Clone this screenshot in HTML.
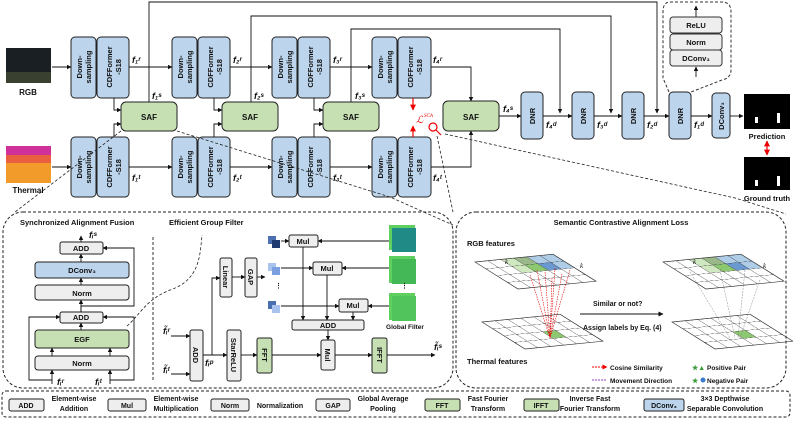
<!DOCTYPE html>
<html><head><meta charset="utf-8"><style>
html,body{margin:0;padding:0;background:#fff}
svg{display:block}
text{font-family:"Liberation Sans",sans-serif;font-weight:bold;fill:#111}
.it{font-family:"Liberation Serif",serif;font-style:italic;font-weight:normal}
</style></head><body>
<svg width="793" height="421" viewBox="0 0 793 421" xmlns="http://www.w3.org/2000/svg">
<defs>
<marker id="a" viewBox="0 0 10 10" refX="9" refY="5" markerWidth="5" markerHeight="5" orient="auto"><path d="M0,0 L10,5 L0,10 z" fill="#111"/></marker>
<marker id="r" viewBox="0 0 10 10" refX="9" refY="5" markerWidth="5" markerHeight="5" orient="auto"><path d="M0,0 L10,5 L0,10 z" fill="#e00"/></marker>
<marker id="rs" viewBox="0 0 10 10" refX="1" refY="5" markerWidth="5" markerHeight="5" orient="auto"><path d="M10,0 L0,5 L10,10 z" fill="#e00"/></marker>
<pattern id="g" width="1" height="1" patternUnits="userSpaceOnUse"><path d="M0,0 H1 V1" fill="none" stroke="#333" stroke-width="0.08"/></pattern>
</defs>
<g stroke="#111" stroke-width="1" fill="none">
<rect x="6" y="48" width="45" height="35" fill="#1a1f24" stroke="none"/>
<rect x="6" y="72" width="45" height="11" fill="#3a4030" stroke="none"/>
<rect x="6" y="146" width="45" height="37" fill="#d0309a" stroke="none"/>
<rect x="6" y="162" width="45" height="21" fill="#f29a2a" stroke="none"/>
<rect x="6" y="155" width="45" height="8" fill="#e86040" stroke="none"/>
</g>
<text x="28" y="95" font-size="8" text-anchor="middle">RGB</text>
<text x="28" y="193" font-size="8" text-anchor="middle">Thermal</text>

<g stroke="#222" stroke-width="1" fill="#bcd5ec">
<rect x="71" y="37" width="25" height="61" rx="4"/><rect x="97" y="37" width="32" height="61" rx="4"/>
<rect x="172" y="37" width="25" height="61" rx="4"/><rect x="198" y="37" width="32" height="61" rx="4"/>
<rect x="272" y="37" width="25" height="61" rx="4"/><rect x="298" y="37" width="32" height="61" rx="4"/>
<rect x="372" y="37" width="25" height="61" rx="4"/><rect x="398" y="37" width="33" height="61" rx="4"/>
<rect x="71" y="137" width="25" height="60" rx="4"/><rect x="97" y="137" width="32" height="60" rx="4"/>
<rect x="172" y="137" width="25" height="60" rx="4"/><rect x="198" y="137" width="32" height="60" rx="4"/>
<rect x="272" y="137" width="25" height="60" rx="4"/><rect x="298" y="137" width="32" height="60" rx="4"/>
<rect x="372" y="137" width="25" height="60" rx="4"/><rect x="398" y="137" width="33" height="60" rx="4"/>
<rect x="521" y="92" width="22" height="47" rx="4"/><rect x="572" y="92" width="22" height="47" rx="4"/>
<rect x="622" y="92" width="22" height="47" rx="4"/><rect x="669" y="92" width="22" height="47" rx="4"/>
<rect x="712" y="93" width="18" height="45" rx="4"/>
</g>
<g stroke="#222" fill="#c6e0b4">
<rect x="121" y="102" width="56" height="29" rx="5"/><rect x="222" y="102" width="56" height="29" rx="5"/>
<rect x="323" y="102" width="56" height="29" rx="5"/><rect x="443" y="101" width="56" height="30" rx="5"/>
</g>
<g font-size="8" text-anchor="middle">
<text x="149" y="120">SAF</text><text x="250" y="120">SAF</text><text x="351" y="120">SAF</text><text x="471" y="120">SAF</text>
</g>
<g font-size="7.5" text-anchor="middle">
<text transform="translate(82,67) rotate(-90)">Down-</text><text transform="translate(91,67) rotate(-90)">sampling</text>
<text transform="translate(183,67) rotate(-90)">Down-</text><text transform="translate(192,67) rotate(-90)">sampling</text>
<text transform="translate(283,67) rotate(-90)">Down-</text><text transform="translate(292,67) rotate(-90)">sampling</text>
<text transform="translate(383,67) rotate(-90)">Down-</text><text transform="translate(392,67) rotate(-90)">sampling</text>
<text transform="translate(82,167) rotate(-90)">Down-</text><text transform="translate(91,167) rotate(-90)">sampling</text>
<text transform="translate(183,167) rotate(-90)">Down-</text><text transform="translate(192,167) rotate(-90)">sampling</text>
<text transform="translate(283,167) rotate(-90)">Down-</text><text transform="translate(292,167) rotate(-90)">sampling</text>
<text transform="translate(383,167) rotate(-90)">Down-</text><text transform="translate(392,167) rotate(-90)">sampling</text>
<text transform="translate(112,67) rotate(-90)">CDFFormer</text><text transform="translate(121,67) rotate(-90)">-S18</text>
<text transform="translate(213,67) rotate(-90)">CDFFormer</text><text transform="translate(222,67) rotate(-90)">-S18</text>
<text transform="translate(313,67) rotate(-90)">CDFFormer</text><text transform="translate(322,67) rotate(-90)">-S18</text>
<text transform="translate(413,67) rotate(-90)">CDFFormer</text><text transform="translate(422,67) rotate(-90)">-S18</text>
<text transform="translate(112,167) rotate(-90)">CDFFormer</text><text transform="translate(121,167) rotate(-90)">-S18</text>
<text transform="translate(213,167) rotate(-90)">CDFFormer</text><text transform="translate(222,167) rotate(-90)">-S18</text>
<text transform="translate(313,167) rotate(-90)">CDFFormer</text><text transform="translate(322,167) rotate(-90)">-S18</text>
<text transform="translate(413,167) rotate(-90)">CDFFormer</text><text transform="translate(422,167) rotate(-90)">-S18</text>
<text transform="translate(535,116) rotate(-90)">DNR</text><text transform="translate(586,116) rotate(-90)">DNR</text>
<text transform="translate(636,116) rotate(-90)">DNR</text><text transform="translate(683,116) rotate(-90)">DNR</text>
<text transform="translate(724,116) rotate(-90)">DConv₃</text>
</g>
<g stroke="#111" stroke-width="0.9" fill="none" marker-end="url(#a)">
<path d="M52,67H71"/><path d="M52,167H71"/>
<path d="M129,67H172"/><path d="M230,67H272"/><path d="M330,67H372"/>
<path d="M129,167H172"/><path d="M230,167H272"/><path d="M330,167H372"/>
<path d="M114,98V110H121"/><path d="M114,137V124H121"/>
<path d="M214,98V110H222"/><path d="M214,137V124H222"/>
<path d="M314,98V110H323"/><path d="M314,137V124H323"/>
<path d="M431,67H471V101"/><path d="M431,167H471V131"/>
<path d="M499,116H521"/><path d="M543,116H572"/><path d="M594,116H622"/><path d="M644,116H669"/><path d="M691,116H712"/><path d="M730,116H743"/>
<path d="M149,102V2H657V113"/><path d="M251,102V16H611V113"/><path d="M351,102V29H560V113"/>
<path d="M696,77V67"/><path d="M696,17V6"/>
</g>
<g stroke="#e00" stroke-width="1.2" fill="none">
<path d="M413,98V110" marker-end="url(#r)"/><path d="M413,137V126" marker-end="url(#r)"/>
<path d="M767,141V155" marker-end="url(#r)" marker-start="url(#rs)"/>
<circle cx="433" cy="127" r="4"/><path d="M436,130L441,135"/>
</g>
<text x="416" y="123" font-size="10" class="it" style="fill:#e00">ℒ</text><text x="424" y="117" font-size="5" style="fill:#e00" class="it">SCA</text>
<g font-size="9" class="it">
<text x="132" y="63">f₁ʳ</text><text x="233" y="63">f₂ʳ</text><text x="333" y="63">f₃ʳ</text><text x="433" y="63">f₄ʳ</text>
<text x="152" y="99">f₁ˢ</text><text x="254" y="99">f₂ˢ</text><text x="355" y="99">f₃ˢ</text><text x="503" y="112">f₄ˢ</text>
<text x="132" y="181">f₁ᵗ</text><text x="233" y="181">f₂ᵗ</text><text x="333" y="181">f₃ᵗ</text><text x="433" y="181">f₄ᵗ</text>
<text x="546" y="128">f₄ᵈ</text><text x="597" y="128">f₃ᵈ</text><text x="647" y="128">f₂ᵈ</text><text x="694" y="128">f₁ᵈ</text>
</g>
<path d="M670,2H722Q731,2 731,12V70Q731,78 722,80L691,92M669,92L663,78V12Q663,2 670,2" fill="none" stroke="#333" stroke-dasharray="3,2"/>
<g stroke="#333" fill="#eee"><rect x="670" y="17" width="52" height="16" rx="3"/><rect x="670" y="34" width="52" height="16" rx="3"/><rect x="670" y="50" width="52" height="16" rx="3"/></g>
<g font-size="7.5" text-anchor="middle"><text x="696" y="28">ReLU</text><text x="696" y="45">Norm</text><text x="696" y="61">DConv₃</text></g>
<rect x="744" y="94" width="46" height="35" fill="#000"/><rect x="755" y="117" width="3" height="6" fill="#fff"/><rect x="777" y="113" width="3" height="10" fill="#fff"/>
<rect x="744" y="157" width="46" height="33" fill="#000"/><rect x="755" y="180" width="3" height="6" fill="#fff"/><rect x="777" y="176" width="3" height="10" fill="#fff"/>
<text x="767" y="139" font-size="7.5" text-anchor="middle">Prediction</text><text x="767" y="201" font-size="7.5" text-anchor="middle">Ground truth</text>
<g stroke="#222" fill="none" stroke-dasharray="3,2" stroke-width="0.8">
<path d="M121,131L15,212"/><path d="M177,131L390,197L453,225"/><path d="M437,136L453,212"/><path d="M445,134L735,198L786,214"/>
<path d="M127,326C140,315 145,300 170,290C200,280 200,255 202,235"/></g>

<rect x="3" y="212" width="450" height="176" rx="20" fill="none" stroke="#222" stroke-dasharray="3,2"/>
<rect x="456" y="212" width="330" height="176" rx="20" fill="none" stroke="#222" stroke-dasharray="3,2"/>
<line x1="153" y1="237" x2="153" y2="382" stroke="#333" stroke-dasharray="3,2"/>
<text x="20" y="225" font-size="7.5">Synchronized Alignment Fusion</text>
<text x="169" y="225" font-size="7.5">Efficient Group Filter</text>
<g stroke="#222" fill="#eee">
<rect x="60" y="242" width="43" height="12" rx="2"/>
<rect x="35" y="262" width="94" height="16" rx="3" fill="#bcd5ec"/>
<rect x="35" y="285" width="94" height="15" rx="3"/>
<rect x="60" y="312" width="43" height="11" rx="2"/>
<rect x="35" y="330" width="94" height="18" rx="3" fill="#c6e0b4"/>
<rect x="35" y="356" width="94" height="14" rx="3"/>
</g>
<g font-size="7.5" text-anchor="middle"><text x="81" y="251">ADD</text><text x="82" y="273">DConv₃</text><text x="82" y="296">Norm</text><text x="81" y="320">ADD</text><text x="82" y="342">EGF</text><text x="82" y="366">Norm</text></g>
<g stroke="#111" stroke-width="0.9" fill="none" marker-end="url(#a)">
<path d="M81,242V236"/><path d="M81,262V254"/><path d="M81,285V278"/><path d="M81,312V300"/>
<path d="M81,330V323"/><path d="M52,356V348"/><path d="M110,356V348"/>
<path d="M52,384V370"/><path d="M110,384V370"/>
<path d="M81,312V306H134V248H103"/>
<path d="M52,380H29V317H60"/><path d="M110,380H134V317H103"/>
</g>
<g font-size="9" class="it"><text x="89" y="238">fᵢˢ</text><text x="57" y="385">fᵢʳ</text><text x="95" y="385">fᵢᵗ</text></g>
<g stroke="#222" fill="#eee">
<rect x="190" y="330" width="13" height="51" rx="2"/>
<rect x="220" y="258" width="12" height="39" rx="2"/><rect x="245" y="258" width="12" height="39" rx="2"/>
<rect x="227" y="330" width="14" height="51" rx="2"/>
<rect x="257" y="338" width="15" height="35" rx="2" fill="#c6e0b4"/><rect x="372" y="338" width="15" height="35" rx="2" fill="#c6e0b4"/>
<rect x="321" y="340" width="14" height="30" rx="2"/>
<rect x="292" y="320" width="72" height="10" rx="2"/>
<rect x="289" y="235" width="29" height="12" rx="2"/><rect x="313" y="262" width="29" height="13" rx="2"/><rect x="339" y="299" width="29" height="13" rx="2"/>
</g>
<g stroke="none">
<rect x="389" y="225" width="26" height="25" fill="#5fd060"/><rect x="392" y="228" width="24" height="24" fill="#1f8a86"/>
<rect x="389" y="256" width="26" height="27" fill="#5fd060"/><rect x="392" y="259" width="24" height="25" fill="#44b857"/>
<rect x="389" y="293" width="26" height="27" fill="#5fd060"/><rect x="392" y="296" width="24" height="25" fill="#52c45c"/>
<rect x="268" y="236" width="8" height="8" fill="#4a70b0"/><rect x="272" y="240" width="8" height="8" fill="#1f3a70"/>
<rect x="268" y="263" width="8" height="8" fill="#a8c4ee"/><rect x="272" y="267" width="8" height="8" fill="#7aa0e0"/>
<rect x="268" y="301" width="8" height="8" fill="#4a70b0"/><rect x="272" y="305" width="8" height="8" fill="#a8c4ee"/>
</g>
<text x="275" y="288" font-size="7">⋮</text><text x="401" y="288" font-size="7">⋮</text>
<g font-size="7.5" text-anchor="middle">
<text x="303" y="244">Mul</text><text x="327" y="271">Mul</text><text x="353" y="308">Mul</text><text x="328" y="328">ADD</text>
<text x="405" y="329" font-size="6.5">Global Filter</text>
<text transform="translate(193,355) rotate(90)">ADD</text><text transform="translate(223,277) rotate(90)">Linear</text>
<text transform="translate(248,277) rotate(90)">GAP</text><text transform="translate(231,355) rotate(90)">StarReLU</text>
<text transform="translate(262,355) rotate(90)">FFT</text><text transform="translate(325,355) rotate(90)">Mul</text>
<text transform="translate(377,355) rotate(90)">IFFT</text>
</g>
<g stroke="#111" stroke-width="0.9" fill="none" marker-end="url(#a)">
<path d="M171,336H190"/><path d="M171,374H190"/><path d="M203,355H227"/><path d="M212,355V278H220"/>
<path d="M232,277H245"/><path d="M257,277H265"/><path d="M241,355H257"/><path d="M272,355H321"/><path d="M335,355H372"/><path d="M387,355H435"/>
<path d="M281,241H289"/><path d="M281,268H313"/><path d="M281,306H339"/>
<path d="M389,241H318"/><path d="M389,268H342"/><path d="M389,306H368"/>
<path d="M303,247V320"/><path d="M327,275V320"/><path d="M353,312V320"/><path d="M328,330V340"/>
</g>
<g font-size="9" class="it"><text x="163" y="334">f̃ᵢʳ</text><text x="163" y="373">f̃ᵢᵗ</text><text x="205" y="366">fᵢᵖ</text><text x="434" y="350">f̃ᵢˢ</text></g>
<text x="621" y="225" font-size="7.5" text-anchor="middle">Semantic Contrastive Alignment Loss</text>
<text x="467" y="246" font-size="7.5">RGB features</text><text x="467" y="364" font-size="7.5">Thermal features</text>
<g transform="matrix(13,-1.3,10.75,6.75,475,262)">
<rect x="2" y="0" width="2" height="2" fill="#cfe8c0"/><rect x="3" y="1" width="1" height="1" fill="#8cc870"/><rect x="3" y="0" width="1" height="1" fill="#9ab88a"/>
<rect x="4" y="0" width="2" height="2" fill="#b0cde8"/><rect x="4" y="1" width="1" height="1" fill="#6a98d0"/>
<rect x="0" y="0" width="6" height="4" fill="url(#g)" stroke="#333" stroke-width="0.08"/></g>
<g transform="matrix(13,-1.3,10.75,6.75,482,322)"><rect x="3" y="2" width="1" height="1" fill="#8cc870"/><rect x="0" y="0" width="6" height="4" fill="url(#g)" stroke="#333" stroke-width="0.08"/></g>
<g transform="matrix(13,-1.3,10.75,6.75,663,262)">
<rect x="2" y="0" width="2" height="2" fill="#cfe8c0"/><rect x="3" y="1" width="1" height="1" fill="#8cc870"/><rect x="3" y="0" width="1" height="1" fill="#9ab88a"/>
<rect x="4" y="0" width="2" height="2" fill="#b0cde8"/><rect x="4" y="1" width="1" height="1" fill="#6a98d0"/>
<rect x="0" y="0" width="6" height="4" fill="url(#g)" stroke="#333" stroke-width="0.08"/></g>
<g transform="matrix(13,-1.3,10.75,6.75,672,322)"><rect x="3" y="2" width="1" height="1" fill="#8cc870"/><rect x="0" y="0" width="6" height="4" fill="url(#g)" stroke="#333" stroke-width="0.08"/></g>
<g stroke="#e00" stroke-width="0.6" stroke-dasharray="1.5,1">
<path d="M530,275L550,338M537,270L550,338M545,272L550,338M555,268L550,338M562,274L550,338M570,270L550,338M552,278L550,338"/></g>
<g stroke="#888" stroke-width="0.5" stroke-dasharray="2,1"><path d="M690,272L730,338M720,270L735,338M760,280L740,338M745,270L738,338"/></g>
<path d="M580,314H663" stroke="#111" marker-end="url(#a)"/>
<text x="593" y="306" font-size="7">Similar or not?</text><text x="583" y="330" font-size="7">Assign labels by Eq. (4)</text>
<path d="M592,367H607" stroke="#e00" stroke-dasharray="2,1" marker-end="url(#r)"/>
<path d="M592,380H607" stroke="#9040c0" stroke-dasharray="2,1"/>
<text x="610" y="370" font-size="6.5">Cosine Similarity</text><text x="610" y="383" font-size="6.5">Movement Direction</text>
<text x="692" y="370" font-size="7" style="fill:#3a9a3a">★▲</text><text x="707" y="370" font-size="6.5">Positive Pair</text>
<text x="692" y="383" font-size="7" style="fill:#3a9a3a">★</text><circle cx="703" cy="380" r="2.5" fill="#3a7ad0"/><text x="707" y="383" font-size="6.5">Negative Pair</text>
<text x="505" y="264" font-size="7" class="it">k</text><text x="580" y="268" font-size="7" class="it">k</text>
<text x="693" y="264" font-size="7" class="it">k</text><text x="763" y="268" font-size="7" class="it">k</text>
<rect x="2" y="391" width="788" height="26" rx="4" fill="none" stroke="#222" stroke-dasharray="3,2"/>
<g stroke="#222" fill="#eee">
<rect x="9" y="399" width="35" height="12" rx="2"/><rect x="108" y="399" width="38" height="12" rx="2"/>
<rect x="211" y="399" width="38" height="12" rx="2"/><rect x="316" y="399" width="34" height="12" rx="2"/>
<rect x="425" y="399" width="35" height="12" rx="2" fill="#c6e0b4"/><rect x="524" y="399" width="35" height="12" rx="2" fill="#c6e0b4"/>
<rect x="644" y="399" width="40" height="12" rx="2" fill="#bcd5ec"/></g>
<g font-size="7" text-anchor="middle">
<text x="26" y="408">ADD</text><text x="127" y="408">Mul</text><text x="230" y="408">Norm</text><text x="333" y="408">GAP</text>
<text x="442" y="408">FFT</text><text x="541" y="408">IFFT</text><text x="664" y="408">DConv₃</text>
<text x="74" y="401">Element-wise</text><text x="74" y="411">Addition</text>
<text x="176" y="401">Element-wise</text><text x="176" y="411">Multiplication</text>
<text x="280" y="408">Normalization</text>
<text x="383" y="401">Global Average</text><text x="383" y="411">Pooling</text>
<text x="488" y="401">Fast Fourier</text><text x="488" y="411">Transform</text>
<text x="590" y="401">Inverse Fast</text><text x="590" y="411">Fourier Transform</text>
<text x="725" y="401">3×3 Depthwise</text><text x="725" y="411">Separable Convolution</text>
</g>
</svg>
</body></html>
